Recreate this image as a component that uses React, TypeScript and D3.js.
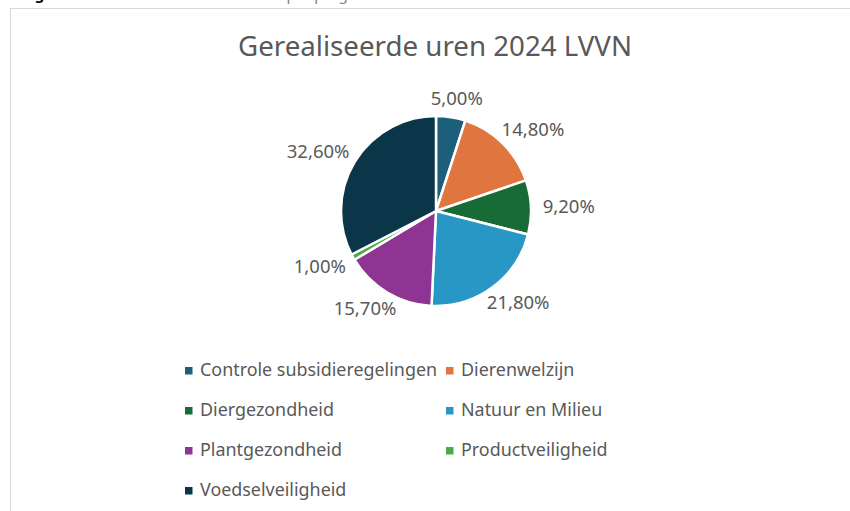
import React from "react";
import * as d3 from "d3";

const categories = [
  "Controle subsidieregelingen",
  "Dierenwelzijn",
  "Diergezondheid",
  "Natuur en Milieu",
  "Plantgezondheid",
  "Productveiligheid",
  "Voedselveiligheid",
];
const values = [5.0, 14.8, 9.2, 21.8, 15.7, 1.0, 32.6];
const colors = ["#1d5f7b", "#e07540", "#196b36", "#2997c6", "#8e3594", "#4ea84a", "#0b3649"];
const title = "Gerealiseerde uren 2024 LVVN";

const W = 850;
const H = 511;
const FONT = "'Noto Sans', 'Open Sans', sans-serif";
const TXT = "#595959";

export default function App() {
  const cx = 436;
  const cy = 211;
  const r = 95;
  const pie = d3
    .pie<number>()
    .sort(null)
    .value((d) => d);
  const arcs = pie(values);
  const arcGen = d3.arc<d3.PieArcDatum<number>>().innerRadius(0).outerRadius(r);
  const fmt = (v: number) => v.toFixed(2).replace(".", ",") + "%";
  const labelFs = 18.5;
  const gap = 12;

  const legendRows = [376, 416, 456, 496];
  const legendCols = [185, 446];

  return (
    <svg
      width={W}
      height={H}
      style={{ position: "absolute", left: 0, top: 0, display: "block", background: "#fff" }}
    >
      <text x={22} y={0} fontFamily={FONT} fontWeight="bold" fontSize={15} fill="#000">
        Figuur 3
      </text>
      <text x={110} y={0} fontFamily={FONT} fontSize={15} fill="#7f7f7f">
        Gerealiseerde uren 2024 per programma
      </text>
      <rect x={10.5} y={8.5} width={W + 20} height={H + 20} fill="#fff" stroke="#d9d9d9" strokeWidth={1} />
      <text x={435} y={55.5} textAnchor="middle" fontFamily={FONT} fontSize={27.7} fill={TXT}>
        {title}
      </text>
      <g transform={`translate(${cx},${cy})`}>
        {arcs.map((a, i) => (
          <path key={i} d={arcGen(a) || ""} fill={colors[i]} stroke="#fff" strokeWidth={2.5} strokeLinejoin="round" />
        ))}
        {arcs.map((a, i) => {
          const mid = (a.startAngle + a.endAngle) / 2;
          const s = Math.sin(mid);
          const c = Math.cos(mid);
          const label = fmt(values[i]);
          const w = label.length * labelFs * 0.56;
          const h = 14;
          const x = (r + gap) * s + (w / 2) * s;
          const y = -(r + gap) * c - (h / 2) * c;
          return (
            <text
              key={"l" + i}
              x={x}
              y={y}
              dy="0.35em"
              textAnchor="middle"
              fontFamily={FONT}
              fontSize={labelFs}
              fill={TXT}
            >
              {label}
            </text>
          );
        })}
      </g>
      {categories.map((c, i) => {
        const row = Math.floor(i / 2);
        const col = i % 2;
        const x = legendCols[col];
        const y = legendRows[row];
        return (
          <g key={"lg" + i}>
            <rect x={x} y={y - 9} width={7.5} height={7.5} fill={colors[i]} />
            <text x={x + 15} y={y} fontFamily={FONT} fontSize={17.9} fill={TXT}>
              {c}
            </text>
          </g>
        );
      })}
    </svg>
  );
}
